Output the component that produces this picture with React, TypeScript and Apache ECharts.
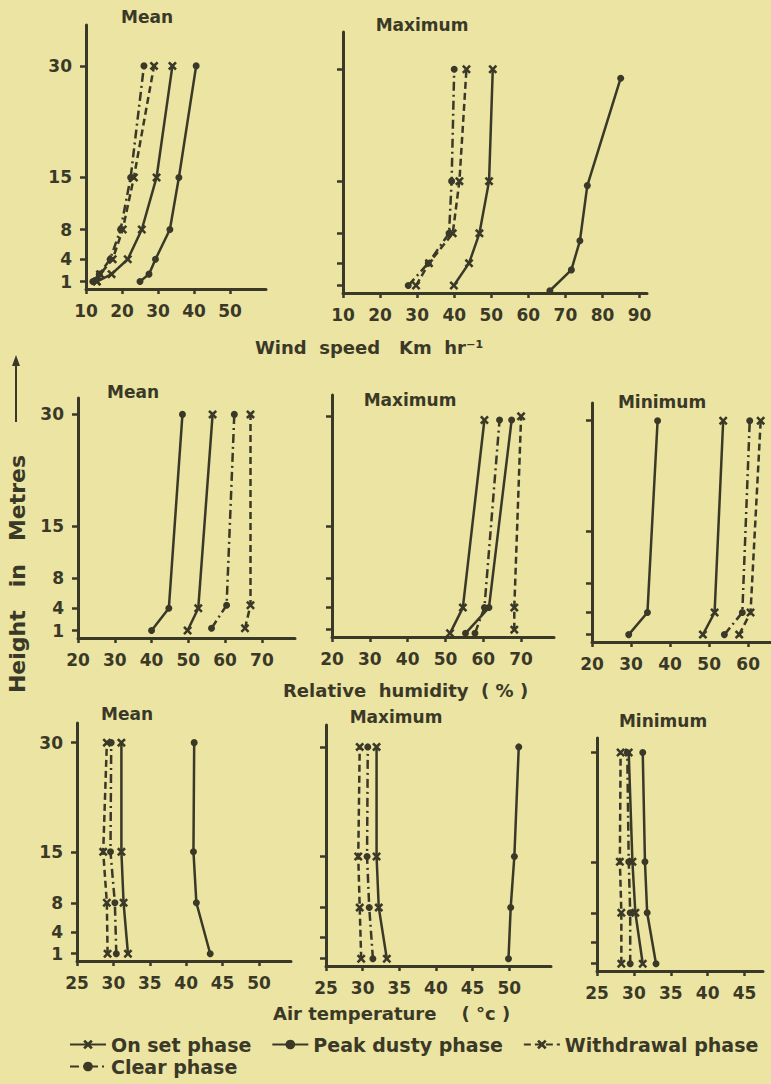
import React, { useEffect, useRef } from 'react';
import * as echarts from 'echarts';

const INK = '#3a3927';
const PAPER = '#ece4a2';
const FONT = '"DejaVu Sans", sans-serif';

const SERIES_NAMES = ['On set phase', 'Peak dusty phase', 'Withdrawal phase', 'Clear phase'];
const HEIGHT_TICKS = [1, 4, 8, 15, 30];

// ---- Wind speed (Km hr-1) ----
const windTicksMean = [10, 20, 30, 40, 50];
const windTicksMax = [10, 20, 30, 40, 50, 60, 70, 80, 90];
const windMeanHeights = [1, 2, 4, 8, 15, 30];
const windMeanOnset = [13, 17.1, 21.6, 25.5, 29.6, 34];
const windMeanPeak = [25, 27.5, 29.3, 33.3, 35.8, 40.6];
const windMeanWithdrawal = [13, 13.9, 17.4, 20.2, 23.3, 28.9];
const windMeanClear = [11.9, 13.7, 16.7, 19.6, 22.4, 26.1];

const windMaxHeights = [1, 4, 8, 15, 30];
const windMaxPeakHeights = [0.3, 3.1, 7, 14.4, 28.8];
const windMaxOnset = [39.9, 44, 46.8, 49.4, 50.4];
const windMaxPeak = [65.8, 71.6, 73.9, 75.9, 84.9];
const windMaxWithdrawal = [29.7, 33.2, 39.6, 41.4, 43.3];
const windMaxClear = [27.6, 33, 38.6, 39.3, 40];

// ---- Relative humidity (%) ----
const rhTicks = [20, 30, 40, 50, 60, 70];
const rhTicksMin = [20, 30, 40, 50, 60];
const rhHeights = [1, 4, 30];
const rhLowHeights = [0.5, 4, 29.5];
const rhShiftHeights = [1.3, 4.4, 30];

const rhMeanOnset = [49.8, 52.7, 56.6];
const rhMeanPeak = [40, 44.7, 48.4];
const rhMeanWithdrawal = [65.4, 66.9, 66.9];
const rhMeanClear = [56.3, 60.4, 62.5];

const rhMaxOnset = [51.2, 54.6, 60.3];
const rhMaxPeak = [55.3, 61.5, 67.5];
const rhMaxWithdrawal = [68.2, 68.2, 70];
const rhMaxClear = [57.8, 60.3, 64.3];

const rhMinOnset = [48.4, 51.4, 53.6];
const rhMinPeak = [29.4, 34.2, 36.8];
const rhMinWithdrawal = [57.7, 60.6, 63.2];
const rhMinClear = [53.9, 58.5, 60.4];

// ---- Air temperature (°C) ----
const tTicks = [25, 30, 35, 40, 45, 50];
const tTicksMin = [25, 30, 35, 40, 45];
const tHeights = [1, 8, 15, 30];

const tMeanOnset = [32.0, 31.4, 31.1, 31.1];
const tMeanPeak = [43.3, 41.4, 41.0, 41.1];
const tMeanWithdrawal = [29.2, 29.1, 28.6, 29.1];
const tMeanClear = [30.4, 30.2, 29.6, 29.7];

const tMaxOnset = [33.3, 32.2, 31.9, 31.9];
const tMaxPeak = [49.9, 50.2, 50.7, 51.3];
const tMaxWithdrawal = [29.8, 29.6, 29.4, 29.6];
const tMaxClear = [31.4, 30.9, 30.6, 30.7];

const tMinOnset = [31.2, 30.2, 29.8, 29.3];
const tMinPeak = [33.0, 31.8, 31.5, 31.2];
const tMinWithdrawal = [28.3, 28.3, 28.1, 28.2];
const tMinClear = [29.5, 29.5, 29.3, 29.1];

const X_SYMBOL = 'path://M0,2L2,0L5,3L8,0L10,2L7,5L10,8L8,10L5,7L2,10L0,8L3,5Z';
const STYLES: any[] = [
  { symbol: X_SYMBOL, size: 9, type: 'solid' },
  { symbol: 'circle', size: 7, type: 'solid' },
  { symbol: X_SYMBOL, size: 9, type: [7, 4] },
  { symbol: 'circle', size: 7, type: [9, 4, 2, 4] },
];

type Panel = {
  grid: { left: number; top: number; width: number; height: number };
  xMin: number; xMax: number; yMax: number; xTicks: number[]; yLabels: boolean;
  title: string; tx: number; ty: number;
  series: [number[], number[]][]; // [heights, values] in SERIES_NAMES order
};

const PANELS: Panel[] = [
  { grid: { left: 86, top: 25, width: 180, height: 264 }, xMin: 10, xMax: 60, yMax: 35.5, xTicks: windTicksMean, yLabels: true,
    title: 'Mean', tx: 147, ty: 17,
    series: [[windMeanHeights, windMeanOnset], [windMeanHeights, windMeanPeak], [windMeanHeights, windMeanWithdrawal], [windMeanHeights, windMeanClear]] },
  { grid: { left: 343, top: 32, width: 304, height: 261 }, xMin: 10, xMax: 92, yMax: 35, xTicks: windTicksMax, yLabels: false,
    title: 'Maximum', tx: 422, ty: 25,
    series: [[windMaxHeights, windMaxOnset], [windMaxPeakHeights, windMaxPeak], [windMaxHeights, windMaxWithdrawal], [windMaxHeights, windMaxClear]] },
  { grid: { left: 78, top: 398, width: 217, height: 240 }, xMin: 20, xMax: 79, yMax: 32.2, xTicks: rhTicks, yLabels: true,
    title: 'Mean', tx: 133, ty: 392,
    series: [[rhHeights, rhMeanOnset], [rhHeights, rhMeanPeak], [rhShiftHeights, rhMeanWithdrawal], [rhShiftHeights, rhMeanClear]] },
  { grid: { left: 332, top: 395, width: 222, height: 242 }, xMin: 20, xMax: 78.7, yMax: 32.9, xTicks: rhTicks, yLabels: false,
    title: 'Maximum', tx: 410, ty: 400,
    series: [[rhLowHeights, rhMaxOnset], [rhLowHeights, rhMaxPeak], [rhHeights, rhMaxWithdrawal], [rhLowHeights, rhMaxClear]] },
  { grid: { left: 592, top: 403, width: 180, height: 239 }, xMin: 20, xMax: 66.1, yMax: 32.4, xTicks: rhTicksMin, yLabels: false,
    title: 'Minimum', tx: 662, ty: 402,
    series: [[rhHeights, rhMinOnset], [rhHeights, rhMinPeak], [rhHeights, rhMinWithdrawal], [rhHeights, rhMinClear]] },
  { grid: { left: 77, top: 723, width: 214, height: 238 }, xMin: 25, xMax: 54.4, yMax: 32.7, xTicks: tTicks, yLabels: true,
    title: 'Mean', tx: 127, ty: 714,
    series: [[tHeights, tMeanOnset], [tHeights, tMeanPeak], [tHeights, tMeanWithdrawal], [tHeights, tMeanClear]] },
  { grid: { left: 326, top: 725, width: 225, height: 241 }, xMin: 25, xMax: 55.7, yMax: 33, xTicks: tTicks, yLabels: false,
    title: 'Maximum', tx: 396, ty: 717,
    series: [[tHeights, tMaxOnset], [tHeights, tMaxPeak], [tHeights, tMaxWithdrawal], [tHeights, tMaxClear]] },
  { grid: { left: 597, top: 738, width: 166, height: 233 }, xMin: 25, xMax: 47.5, yMax: 32, xTicks: tTicksMin, yLabels: false,
    title: 'Minimum', tx: 663, ty: 721,
    series: [[tHeights, tMinOnset], [tHeights, tMinPeak], [tHeights, tMinWithdrawal], [tHeights, tMinClear]] },
];

const labelStyle = { color: INK, fontFamily: FONT, fontWeight: 'bold' as const, fontSize: 17 };

function buildOption() {
  const grids: any[] = [];
  const xAxes: any[] = [];
  const yAxes: any[] = [];
  const series: any[] = [];
  const graphic: any[] = [];
  PANELS.forEach((p, i) => {
    grids.push({ ...p.grid, containLabel: false, outerBoundsMode: 'none' });
    xAxes.push({
      type: 'value', gridIndex: i, min: p.xMin, max: p.xMax,
      axisLine: { show: true, onZero: false, lineStyle: { color: INK, width: 3 } },
      axisTick: { show: true, length: 5, customValues: p.xTicks, lineStyle: { color: INK, width: 2.5 } },
      axisLabel: { show: true, customValues: p.xTicks, margin: 13, ...labelStyle },
      splitLine: { show: false },
    });
    yAxes.push({
      type: 'value', gridIndex: i, min: 0, max: p.yMax,
      axisLine: { show: true, onZero: false, lineStyle: { color: INK, width: 3 } },
      axisTick: { show: true, length: 6, customValues: HEIGHT_TICKS, lineStyle: { color: INK, width: 2.5 } },
      axisLabel: { show: p.yLabels, customValues: HEIGHT_TICKS, margin: 14, ...labelStyle },
      splitLine: { show: false },
    });
    p.series.forEach(([hs, vs], k) => {
      const st = STYLES[k];
      series.push({
        type: 'line', name: SERIES_NAMES[k], xAxisIndex: i, yAxisIndex: i,
        data: vs.map((v, j) => [v, hs[j]]),
        symbol: st.symbol, symbolSize: st.size, showSymbol: true, clip: false,
        lineStyle: { color: INK, width: 2.5, type: st.type },
        itemStyle: { color: INK },
        emphasis: { disabled: true },
      });
    });
    graphic.push({
      type: 'text', x: p.tx, y: p.ty,
      style: { text: p.title, fill: INK, font: `bold 17px ${FONT}`, align: 'center', verticalAlign: 'middle' },
    });
  });

  const axisTitle = (text: string, x: number, y: number) => ({
    type: 'text', x, y,
    style: { text, fill: INK, font: `bold 18px ${FONT}`, align: 'left', verticalAlign: 'middle' },
  });
  graphic.push(axisTitle('Wind  speed   Km  hr⁻¹', 255, 347));
  graphic.push(axisTitle('Relative  humidity  ( % )', 283, 690));
  graphic.push(axisTitle('Air temperature    ( °c )', 273, 1013));
  graphic.push({
    type: 'text', x: 17, y: 574, rotation: Math.PI / 2,
    style: { text: 'Height   in   Metres', fill: INK, font: `bold 22px ${FONT}`, align: 'center', verticalAlign: 'middle' },
  });
  graphic.push({ type: 'line', shape: { x1: 16, y1: 422, x2: 16, y2: 362 }, style: { stroke: INK, lineWidth: 2 } });
  graphic.push({ type: 'polygon', shape: { points: [[16, 355], [12, 366], [20, 366]] }, style: { fill: INK } });

  const legendText = { color: INK, fontFamily: FONT, fontWeight: 'bold' as const, fontSize: 19, padding: [0, 0, 0, 0] };
  const legend = [
    { left: 64, top: 1030, orient: 'horizontal', data: SERIES_NAMES.slice(0, 3), itemWidth: 36, itemHeight: 12, itemGap: 20,
      textStyle: legendText, selectedMode: false, inactiveColor: INK },
    { left: 64, top: 1052, orient: 'horizontal', data: SERIES_NAMES.slice(3), itemWidth: 36, itemHeight: 12, itemGap: 20,
      textStyle: legendText, selectedMode: false, inactiveColor: INK },
  ];

  return {
    animation: false,
    backgroundColor: PAPER,
    grid: grids,
    xAxis: xAxes,
    yAxis: yAxes,
    series,
    legend,
    graphic,
  };
}

export default function App() {
  const ref = useRef<HTMLDivElement>(null);
  useEffect(() => {
    if (!ref.current) return;
    const chart = echarts.init(ref.current, undefined, { renderer: 'svg' });
    chart.setOption(buildOption() as any);
    return () => chart.dispose();
  }, []);
  return (
    <div
      ref={ref}
      style={{ position: 'absolute', left: 0, top: 0, width: 771, height: 1084, background: PAPER }}
    />
  );
}
